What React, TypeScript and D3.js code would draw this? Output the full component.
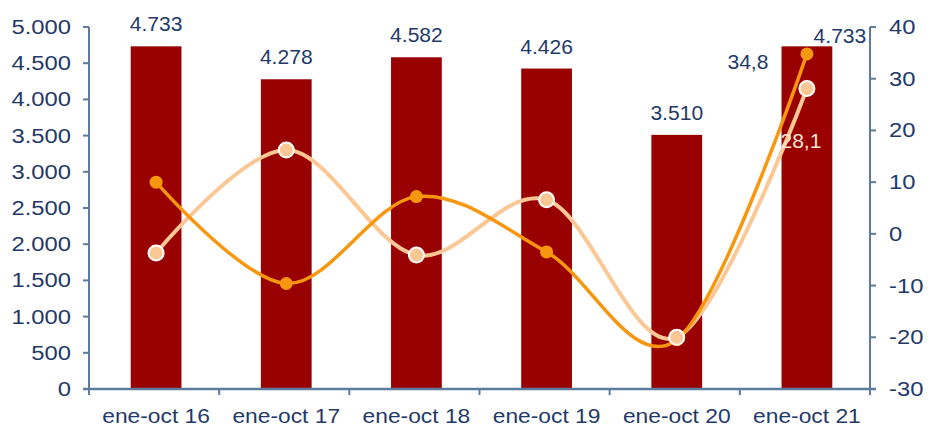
import * as d3 from "d3";
import React from "react";

const categories = ["ene-oct 16", "ene-oct 17", "ene-oct 18", "ene-oct 19", "ene-oct 20", "ene-oct 21"];
const units = [4733, 4278, 4582, 4426, 3510, 4733];
const unitLabels = ["4.733", "4.278", "4.582", "4.426", "3.510", "4.733"];
const growthA = [10, -9.6, 7.2, -3.5, -20.5, 34.8];
const growthB = [-3.7, 16.2, -4.1, 6.6, -20, 28.1];
const leftTicks = [0, 500, 1000, 1500, 2000, 2500, 3000, 3500, 4000, 4500, 5000];
const rightTicks = [-30, -20, -10, 0, 10, 20, 30, 40];

const width = 931;
const height = 427;
const margin = { left: 89, right: 61, top: 27, bottom: 38 };

const FONT = "'Liberation Sans', Arial, sans-serif";
const NAVY = "#1f3a68";
const AXIS = "#5b7c9c";
const BAR = "#990000";
const DARK = "#f7960f";
const LIGHT = "#fbc795";

const fmt = (v: number) => d3.format(",")(v).replace(/,/g, ".");

// text squeezed/stretched sideways like the original picture
function SText(props: { x: number; y: number; sx?: number; anchor?: string; size: number; fill?: string; children: React.ReactNode }) {
  const { x, y, sx = 1, anchor = "middle", size, fill = NAVY } = props;
  return (
    <text
      transform={`translate(${x},${y}) scale(${sx},1)`}
      textAnchor={anchor}
      fontSize={size}
      fontFamily={FONT}
      fill={fill}
    >
      {props.children}
    </text>
  );
}

export default function App() {
  const x = d3
    .scaleBand<string>()
    .domain(categories)
    .range([margin.left, width - margin.right]);
  const yL = d3.scaleLinear().domain([0, 5000]).range([height - margin.bottom, margin.top]);
  const yR = d3.scaleLinear().domain([-30, 40]).range([height - margin.bottom, margin.top]);

  const barW = x.bandwidth() * 0.39;
  const cx = (c: string) => x(c)! + x.bandwidth() / 2 + 2;

  const line = d3
    .line<number>()
    .x((_, i) => cx(categories[i]))
    .y((d) => yR(d))
    .curve(d3.curveCatmullRom.alpha(0));

  const bottomY = height - margin.bottom;
  const rightX = width - margin.right;
  const boundaries = d3.range(categories.length + 1).map((i) => margin.left + i * x.step());

  return (
    <svg
      width={width}
      height={height}
      style={{ position: "absolute", left: 0, top: 0, background: "#fff" }}
    >
      {/* bars */}
      {units.map((v, i) => (
        <rect
          key={categories[i]}
          x={cx(categories[i]) - barW / 2}
          y={yL(v)}
          width={barW}
          height={bottomY - yL(v)}
          fill={BAR}
        />
      ))}

      {/* bar labels */}
      {units.map((v, i) =>
        i < units.length - 1 ? (
          <SText key={"l" + i} x={cx(categories[i])} y={yL(v) - 15} size={19.5} sx={1.08}>
            {unitLabels[i]}
          </SText>
        ) : (
          <SText key={"l" + i} x={cx(categories[i]) + 33} y={yL(v) - 3} size={19.5} sx={1.08}>
            {unitLabels[i]}
          </SText>
        )
      )}

      {/* growth lines */}
      <path d={line(growthB)!} fill="none" stroke={LIGHT} strokeWidth={4} />
      <path d={line(growthA)!} fill="none" stroke={DARK} strokeWidth={3.5} />
      {growthA.map((v, i) => (
        <circle key={"a" + i} cx={cx(categories[i])} cy={yR(v)} r={6.5} fill={DARK} />
      ))}
      {growthB.map((v, i) => (
        <circle key={"b" + i} cx={cx(categories[i])} cy={yR(v)} r={7.5} fill={LIGHT} stroke="#fff" strokeWidth={2} />
      ))}

      <SText x={cx(categories[5]) - 59} y={yR(34.8) + 15} size={19.5} sx={1.08}>
        {"34,8"}
      </SText>
      <SText x={cx(categories[5]) - 6} y={yR(28.1) + 59} size={19.5} sx={1.08} fill="#fde6d2">
        {"28,1"}
      </SText>

      {/* left axis */}
      <line x1={margin.left} x2={margin.left} y1={margin.top} y2={bottomY} stroke={AXIS} strokeWidth={2} />
      {leftTicks.map((t) => (
        <g key={"lt" + t}>
          <line x1={margin.left - 6} x2={margin.left} y1={yL(t)} y2={yL(t)} stroke={AXIS} strokeWidth={2} />
          <SText x={margin.left - 18} y={yL(t) + 7} anchor="end" size={19.5} sx={1.22}>
            {fmt(t)}
          </SText>
        </g>
      ))}

      {/* right axis */}
      <line x1={rightX} x2={rightX} y1={margin.top} y2={bottomY} stroke={AXIS} strokeWidth={2} />
      {rightTicks.map((t) => (
        <g key={"rt" + t}>
          <line x1={rightX} x2={rightX + 6} y1={yR(t)} y2={yR(t)} stroke={AXIS} strokeWidth={2} />
          <SText x={rightX + 19} y={yR(t) + 7} anchor="start" size={19.5} sx={1.22}>
            {t}
          </SText>
        </g>
      ))}

      {/* bottom axis */}
      <line x1={margin.left - 6} x2={rightX + 6} y1={bottomY} y2={bottomY} stroke={AXIS} strokeWidth={2.5} />
      {boundaries.map((b, i) => (
        <line key={"bt" + i} x1={b} x2={b} y1={bottomY} y2={bottomY + 6} stroke={AXIS} strokeWidth={2} />
      ))}
      {categories.map((c) => (
        <SText key={c} x={cx(c)} y={height - 4} size={20} sx={1.14}>
          {c}
        </SText>
      ))}
    </svg>
  );
}
